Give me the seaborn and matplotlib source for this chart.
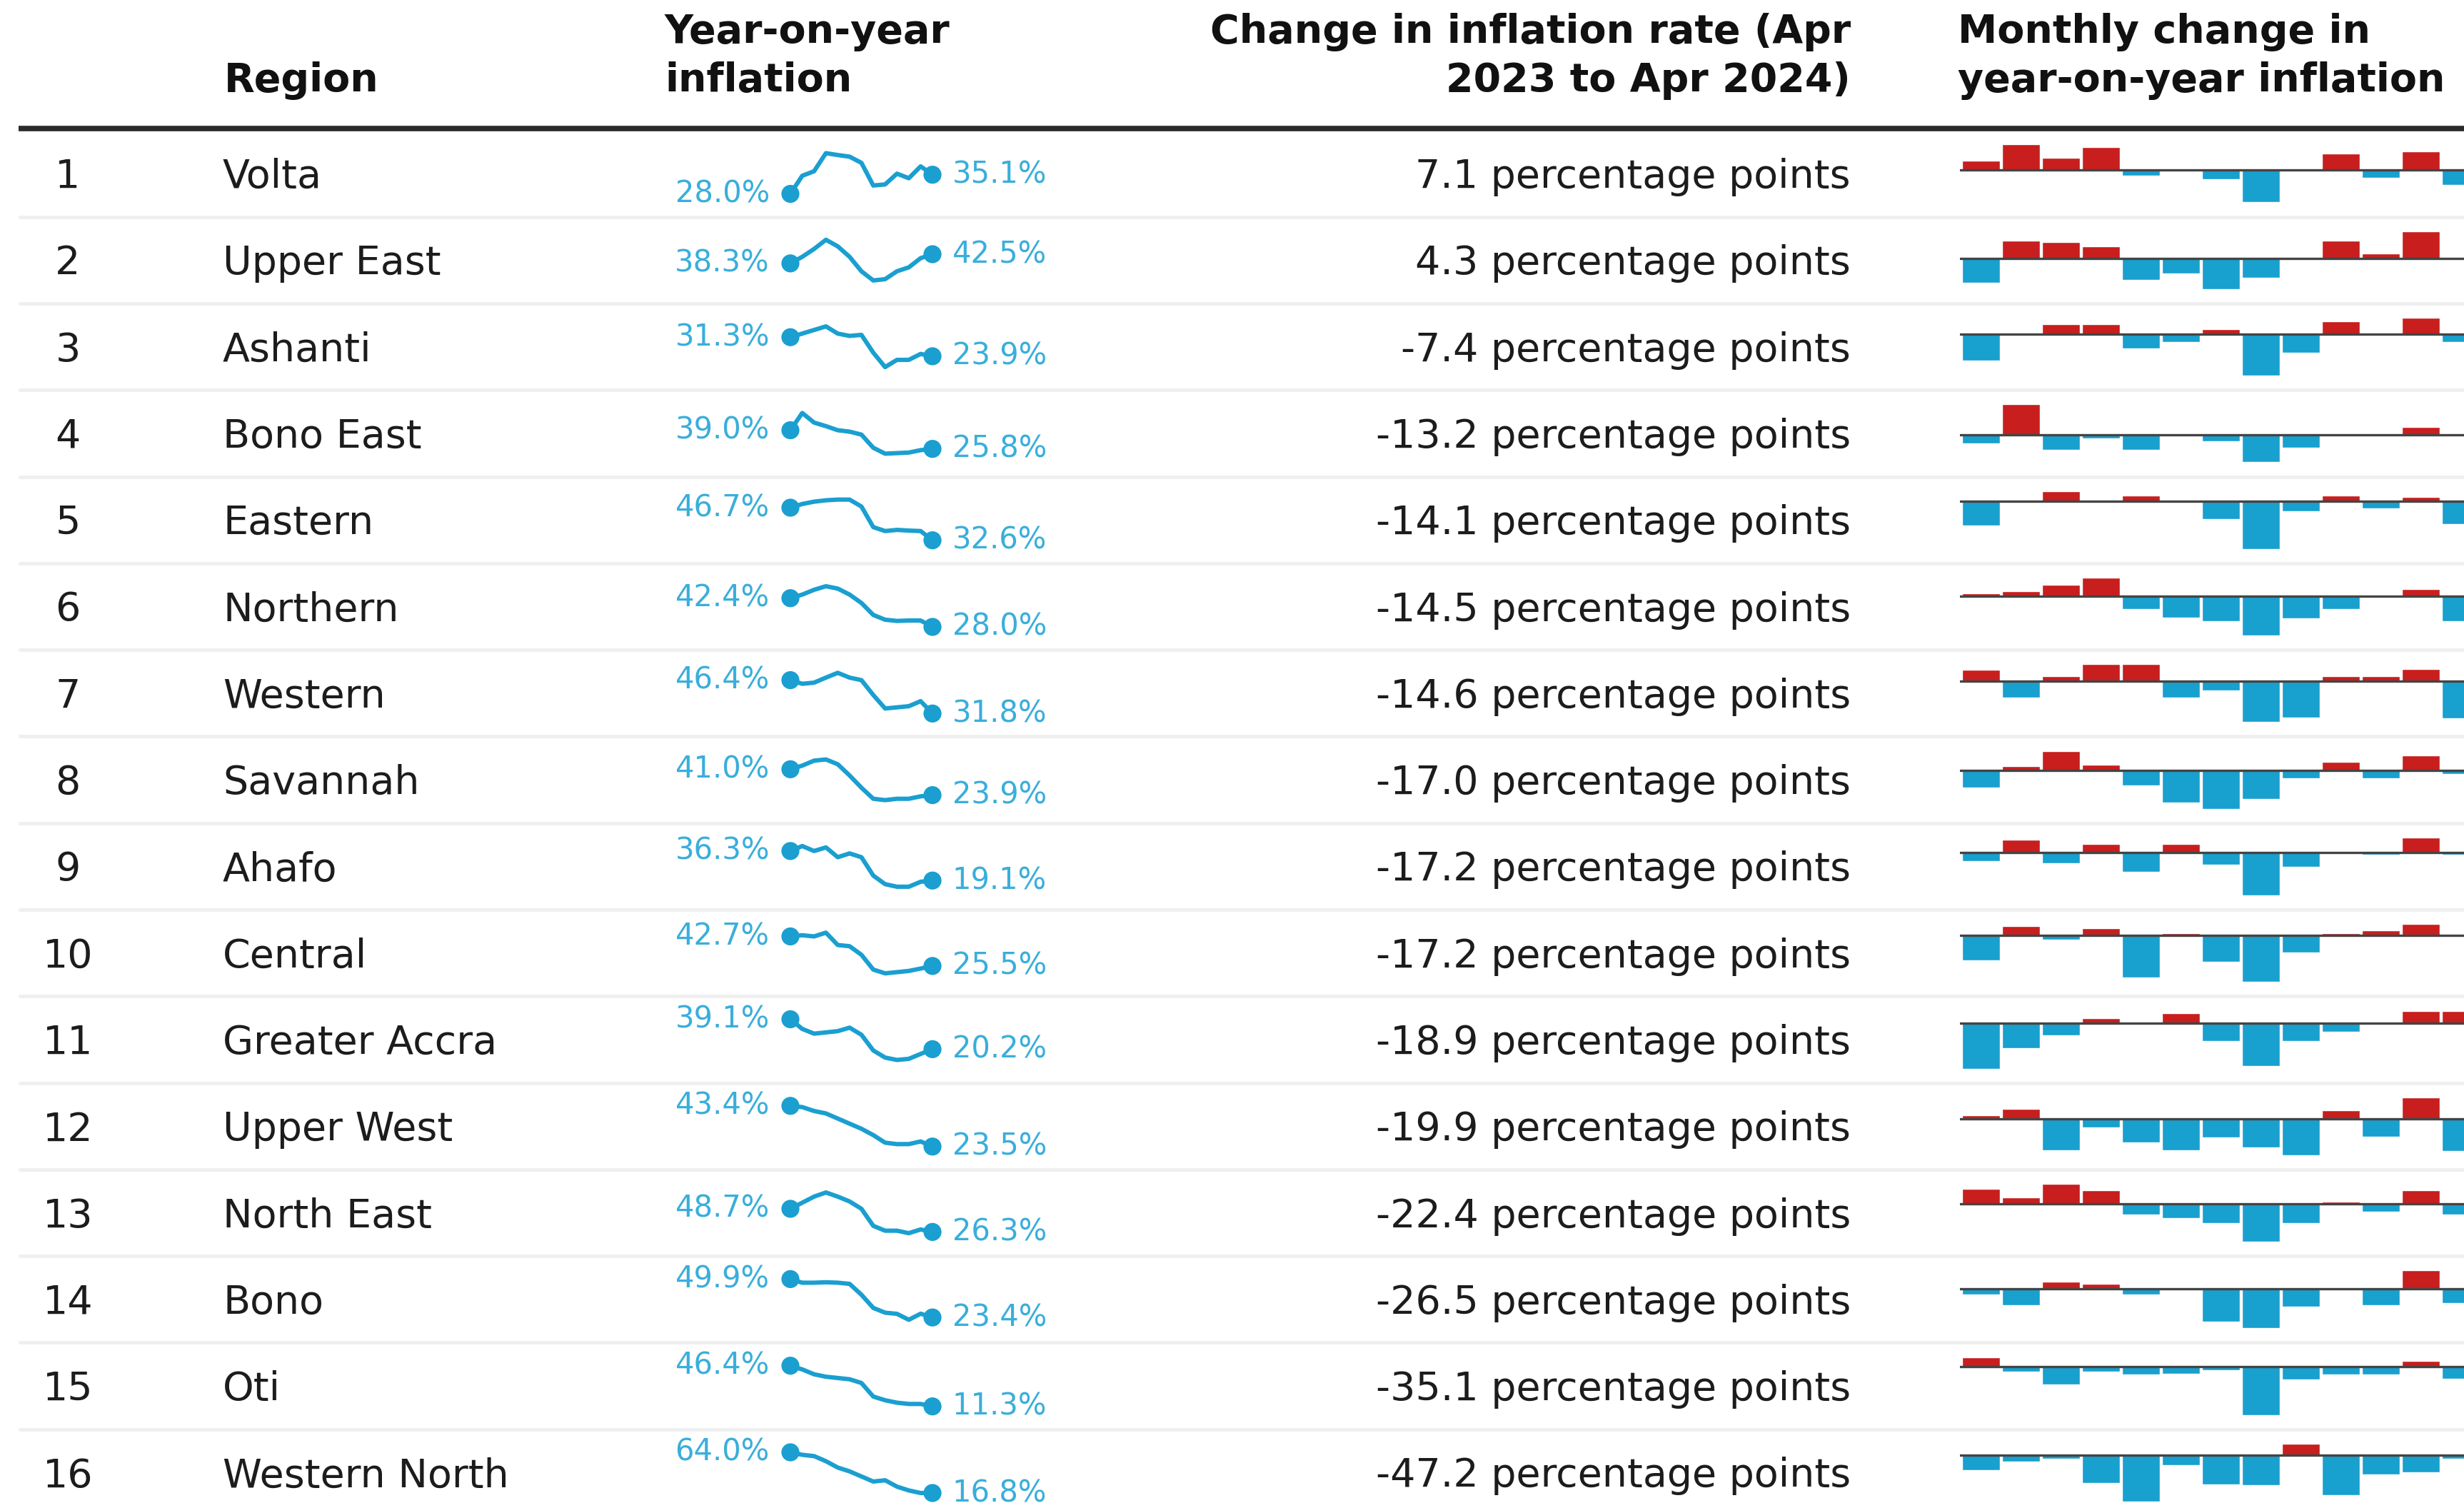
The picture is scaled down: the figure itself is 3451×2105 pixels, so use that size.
import numpy as np
import pandas as pd
import matplotlib
matplotlib.use("Agg")
import matplotlib.pyplot as plt
import seaborn as sns

# Regional year-on-year inflation in Ghana, Apr 2023 -> Apr 2024

months = ["Apr 23", "May 23", "Jun 23", "Jul 23", "Aug 23", "Sep 23", "Oct 23",
          "Nov 23", "Dec 23", "Jan 24", "Feb 24", "Mar 24", "Apr 24"]

regions = ["Volta", "Upper East", "Ashanti", "Bono East", "Eastern", "Northern",
           "Western", "Savannah", "Ahafo", "Central", "Greater Accra",
           "Upper West", "North East", "Bono", "Oti", "Western North"]

change_pp = [7.1, 4.3, -7.4, -13.2, -14.1, -14.5, -14.6, -17.0, -17.2, -17.2,
             -18.9, -19.9, -22.4, -26.5, -35.1, -47.2]

# year-on-year inflation (%)
yoy_volta = [28.0, 34.7, 36.4, 43.1, 42.4, 41.8, 39.5, 31.1, 31.5, 35.5, 33.8, 38.2, 35.1]
yoy_upper_east = [38.3, 41.3, 44.9, 49.1, 46.1, 41.3, 34.7, 30.5, 31.1, 34.7, 36.5, 40.7, 42.5]
yoy_ashanti = [31.3, 32.7, 34.1, 35.5, 32.7, 31.8, 32.2, 25.3, 19.7, 22.5, 22.5, 24.8, 23.9]
yoy_bono_east = [39.0, 51.2, 44.4, 41.9, 39.0, 38.0, 35.9, 26.6, 22.4, 22.8, 23.2, 24.9, 25.8]
yoy_eastern = [46.7, 48.3, 49.3, 49.9, 50.2, 50.2, 47.2, 38.3, 36.6, 37.1, 36.8, 36.6, 32.6]
yoy_northern = [42.4, 44.2, 46.6, 48.4, 47.2, 44.2, 40.0, 34.0, 31.6, 31.0, 31.2, 31.2, 28.0]
yoy_western = [46.4, 44.8, 45.3, 47.5, 49.6, 47.5, 46.4, 39.9, 34.0, 34.5, 35.0, 37.2, 31.8]
yoy_savannah = [41.0, 43.4, 46.7, 47.5, 44.3, 36.9, 28.8, 21.5, 20.6, 21.5, 21.5, 23.1, 23.9]
yoy_ahafo = [36.3, 39.2, 36.3, 38.4, 32.7, 34.9, 32.7, 22.0, 17.0, 15.5, 15.5, 18.4, 19.1]
yoy_central = [42.7, 43.4, 42.7, 44.9, 37.7, 37.0, 32.0, 23.4, 21.2, 21.9, 22.6, 24.0, 25.5]
yoy_greater_accra = [39.1, 33.0, 30.0, 30.8, 31.6, 33.8, 29.3, 19.4, 14.9, 13.4, 14.1, 17.2, 20.2]
yoy_upper_west = [43.4, 42.8, 40.9, 39.7, 37.2, 34.7, 32.2, 29.1, 25.4, 24.7, 24.7, 26.0, 23.5]
yoy_north_east = [48.7, 54.6, 60.5, 64.5, 60.5, 55.8, 48.7, 32.2, 27.5, 27.5, 25.1, 28.7, 26.3]
yoy_bono = [49.9, 47.4, 47.4, 47.7, 47.4, 46.6, 39.1, 30.0, 26.7, 25.9, 21.8, 26.0, 23.4]
yoy_oti = [46.4, 43.2, 39.0, 36.9, 35.8, 34.7, 31.5, 19.8, 16.6, 14.5, 13.4, 13.4, 11.3]
yoy_western_north = [64.0, 61.1, 59.6, 53.7, 46.3, 41.9, 36.0, 30.1, 31.6, 24.2, 19.8, 16.8, 16.8]

# monthly change in year-on-year inflation (percentage points)
mom_volta = [2.5, 6.8, 3.2, 6.1, -1.4, 0.0, -2.5, -8.6, 0.0, 4.4, -2.1, 4.9, -3.9]
mom_upper_east = [-6.3, 4.9, 4.4, 3.3, -5.6, -3.8, -8.0, -5.0, 0.0, 4.9, 1.4, 7.3, 0.0]
mom_ashanti = [-6.8, 0.0, 2.6, 2.6, -3.8, -2.1, 1.3, -10.8, -4.9, 3.3, 0.0, 4.2, -2.1]
mom_bono_east = [-2.2, 7.8, -3.9, -1.0, -3.9, 0.0, -1.6, -7.1, -3.4, 0.0, 0.0, 1.9, 0.0]
mom_eastern = [-6.4, 0.0, 2.7, 0.0, 1.6, 0.0, -4.7, -12.6, -2.6, 1.6, -1.8, 1.2, -6.1]
mom_northern = [0.8, 1.3, 3.1, 4.9, -3.3, -5.6, -6.6, -10.3, -5.8, -3.3, 0.0, 1.9, -6.6]
mom_western = [3.1, -4.3, 1.4, 4.5, 4.5, -4.3, -2.4, -10.8, -9.7, 1.4, 1.4, 3.3, -9.8]
mom_savannah = [-4.3, 1.2, 5.1, 1.6, -3.8, -8.3, -9.8, -7.3, -1.9, 2.2, -1.9, 3.9, -0.8]
mom_ahafo = [-2.3, 3.2, -2.9, 2.2, -5.1, 2.2, -3.3, -11.1, -3.8, 0.0, -0.6, 3.8, -0.6]
mom_central = [-6.4, 2.4, -1.1, 1.9, -10.8, 0.7, -6.7, -12.0, -4.3, 0.7, 1.3, 3.0, 0.0]
mom_greater_accra = [-11.6, -6.3, -3.1, 1.3, 0.0, 2.6, -4.6, -10.9, -4.6, -2.1, 0.0, 3.3, 3.3]
mom_upper_west = [0.8, 2.5, -7.8, -2.2, -5.9, -7.8, -4.7, -7.2, -9.1, 2.2, -4.4, 5.4, -8.1]
mom_north_east = [3.9, 1.6, 5.1, 3.5, -2.6, -3.6, -4.9, -9.6, -4.9, 0.5, -1.9, 3.5, -2.6]
mom_bono = [-1.4, -4.1, 1.8, 1.3, -1.4, -0.4, -8.4, -10.1, -4.6, -0.4, -4.2, 4.7, -3.6]
mom_oti = [2.4, -1.4, -4.7, -1.4, -2.1, -1.9, -0.9, -12.5, -3.4, -2.1, -2.1, 1.4, -3.1]
mom_western_north = [-3.9, -1.6, -0.8, -7.2, -12.2, -2.6, -7.6, -7.8, 3.1, -10.5, -5.0, -4.4, -0.8]

yoy_series = [yoy_volta, yoy_upper_east, yoy_ashanti, yoy_bono_east, yoy_eastern,
              yoy_northern, yoy_western, yoy_savannah, yoy_ahafo, yoy_central,
              yoy_greater_accra, yoy_upper_west, yoy_north_east, yoy_bono, yoy_oti,
              yoy_western_north]
mom_series = [mom_volta, mom_upper_east, mom_ashanti, mom_bono_east, mom_eastern,
              mom_northern, mom_western, mom_savannah, mom_ahafo, mom_central,
              mom_greater_accra, mom_upper_west, mom_north_east, mom_bono, mom_oti,
              mom_western_north]

W, H = 3451, 2105
LINE_BLUE = "#1a9fd0"
LABEL_BLUE = "#3aaedb"
RED = "#c81e1e"
BLUE = "#18a0ce"
TEXT = "#1c1c1c"
FS = 40

sns.set_theme(style="white")
plt.rcParams["font.family"] = ["DejaVu Sans"]

fig = plt.figure(figsize=(W / 100, H / 100), dpi=100)
fig.patch.set_facecolor("white")

# pixel-space canvas for the table text and rules
bg = fig.add_axes([0, 0, 1, 1])
bg.set_xlim(0, W)
bg.set_ylim(H, 0)
bg.axis("off")


def px_axes(left, top, width, height):
    return fig.add_axes([left / W, 1 - (top + height) / H, width / W, height / H])


# header
hdr = dict(fontsize=FS, fontweight="bold", color="#111111", va="baseline")
bg.text(314, 128, "Region", ha="left", **hdr)
bg.text(931, 60, "Year-on-year", ha="left", **hdr)
bg.text(931, 128, "inflation", ha="left", **hdr)
bg.text(2592, 60, "Change in inflation rate (Apr", ha="right", **hdr)
bg.text(2592, 128, "2023 to Apr 2024)", ha="right", **hdr)
bg.text(2742, 60, "Monthly change in", ha="left", **hdr)
bg.text(2742, 128, "year-on-year inflation", ha="left", **hdr)
bg.plot([26, W], [180, 180], color="#2b2b2b", lw=5.5, solid_capstyle="butt")

ROW0, PITCH = 243, 121.3

for i, region in enumerate(regions):
    yc = ROW0 + PITCH * i

    # row separator
    bg.plot([26, W], [yc + 60.6, yc + 60.6], color="#efefef", lw=3.5,
            solid_capstyle="butt", zorder=0)

    bg.text(95, yc + 20, str(i + 1), ha="center", va="baseline", fontsize=FS, color=TEXT)
    bg.text(312, yc + 20, region, ha="left", va="baseline", fontsize=FS, color=TEXT)
    bg.text(2592, yc + 20, f"{change_pp[i]:.1f} percentage points", ha="right",
            va="baseline", fontsize=FS, color=TEXT)

    # sparkline
    vals = np.array(yoy_series[i])
    ax = px_axes(1107, yc - 28.5, 199, 57)
    sns.lineplot(x=np.arange(len(months)), y=vals, ax=ax, color=LINE_BLUE, lw=4.4,
                 clip_on=False)
    sns.scatterplot(x=[0, len(months) - 1], y=[vals[0], vals[-1]], ax=ax,
                    color=LINE_BLUE, s=330, edgecolor="none", zorder=3, clip_on=False)
    ax.set_xlim(0, len(months) - 1)
    ax.set_ylim(vals.min(), vals.max())
    ax.axis("off")
    ax.annotate(f"{vals[0]:.1f}%", (0, vals[0]), xytext=(-21, 0),
                textcoords="offset points", ha="right", va="center",
                fontsize=30, color=LABEL_BLUE, annotation_clip=False)
    ax.annotate(f"{vals[-1]:.1f}%", (len(months) - 1, vals[-1]), xytext=(20, 0),
                textcoords="offset points", ha="left", va="center",
                fontsize=30, color=LABEL_BLUE, annotation_clip=False)

    # monthly change bars
    mom = np.array(mom_series[i])
    df = pd.DataFrame({
        "month": months,
        "change": mom,
        "sign": np.where(mom > 0, "up", "down"),
    })
    bx = px_axes(2745, yc - 40.5, W - 2745, 81)
    sns.barplot(data=df, x="month", y="change", hue="sign", hue_order=["up", "down"],
                palette={"up": RED, "down": BLUE}, dodge=False, width=0.95,
                saturation=1, errorbar=None, legend=False, ax=bx)
    bx.axhline(0, color="#444444", lw=2.4, zorder=5)
    bx.set_xlim(-0.529, 12.078)
    bx.set_ylim(min(mom.min(), 0), max(mom.max(), 0))
    bx.axis("off")

fig.savefig("out.png", dpi=100)
plt.close(fig)
